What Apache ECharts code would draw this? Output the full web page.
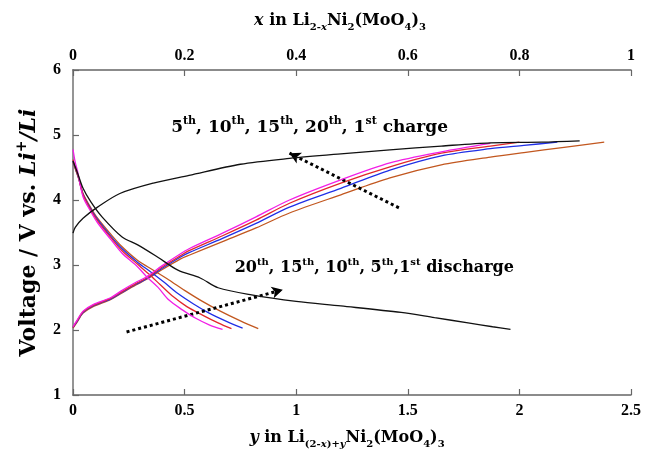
<!DOCTYPE html>
<html>
<head>
<meta charset="utf-8">
<script src="https://cdn.jsdelivr.net/npm/echarts@6/dist/echarts.min.js"></script>
<style>
  html, body { margin: 0; padding: 0; background: #fff; }
  #chart { width: 650px; height: 454px; }
</style>
</head>
<body>
<div id="chart"></div>
<script>
// y in Li(2-x)+yNi2(MoO4)3 vs voltage
const charge1 = [[0,3.49],[0.01,3.58],[0.045,3.72],[0.11,3.89],[0.21,4.10],[0.36,4.26],[0.52,4.38],[0.75,4.55],[0.97,4.64],[1.2,4.71],[1.42,4.77],[1.65,4.83],[1.87,4.88],[2.1,4.89],[2.27,4.91]]
const discharge1 = [[0,4.60],[0.02,4.42],[0.045,4.18],[0.08,3.97],[0.13,3.74],[0.22,3.43],[0.29,3.31],[0.38,3.12],[0.47,2.92],[0.57,2.80],[0.65,2.65],[0.8,2.54],[1.0,2.44],[1.2,2.37],[1.47,2.27],[1.62,2.19],[1.77,2.11],[1.88,2.05],[1.96,2.01]]

const charge5 = [[0,2.03],[0.02,2.13],[0.045,2.26],[0.09,2.36],[0.17,2.47],[0.22,2.57],[0.28,2.69],[0.33,2.78],[0.40,2.93],[0.48,3.09],[0.52,3.15],[0.67,3.36],[0.82,3.57],[0.97,3.80],[1.2,4.08],[1.42,4.34],[1.65,4.54],[1.87,4.66],[2.02,4.73],[2.2,4.81],[2.38,4.89]]
const charge10 = [[0,2.04],[0.02,2.14],[0.045,2.27],[0.09,2.37],[0.17,2.48],[0.22,2.58],[0.28,2.70],[0.33,2.79],[0.40,2.95],[0.48,3.12],[0.52,3.19],[0.67,3.41],[0.82,3.64],[0.97,3.89],[1.2,4.18],[1.42,4.46],[1.65,4.68],[1.87,4.79],[2.02,4.84],[2.17,4.89]]
const charge15 = [[0,2.04],[0.02,2.15],[0.045,2.28],[0.09,2.38],[0.17,2.49],[0.22,2.59],[0.28,2.71],[0.33,2.80],[0.40,2.97],[0.48,3.14],[0.52,3.22],[0.67,3.45],[0.82,3.69],[0.97,3.95],[1.2,4.26],[1.42,4.51],[1.65,4.72],[1.87,4.83],[2.0,4.89]]
const charge20 = [[0,2.05],[0.02,2.16],[0.045,2.29],[0.09,2.39],[0.17,2.50],[0.22,2.61],[0.28,2.73],[0.33,2.82],[0.40,2.99],[0.48,3.17],[0.52,3.25],[0.67,3.49],[0.82,3.74],[0.97,4.00],[1.2,4.31],[1.42,4.57],[1.65,4.74],[1.87,4.87]]

const discharge5 = [[0,4.58],[0.01,4.48],[0.025,4.33],[0.045,4.10],[0.08,3.88],[0.11,3.72],[0.17,3.47],[0.22,3.28],[0.29,3.07],[0.36,2.92],[0.43,2.77],[0.50,2.61],[0.58,2.44],[0.66,2.29],[0.75,2.14],[0.83,2.02]]
const discharge10 = [[0,4.60],[0.01,4.49],[0.025,4.34],[0.045,4.09],[0.08,3.86],[0.11,3.70],[0.17,3.44],[0.22,3.25],[0.29,3.04],[0.35,2.89],[0.41,2.73],[0.47,2.56],[0.54,2.40],[0.61,2.26],[0.69,2.13],[0.76,2.03]]
const discharge15 = [[0,4.62],[0.01,4.50],[0.025,4.35],[0.045,4.08],[0.08,3.84],[0.11,3.68],[0.17,3.42],[0.22,3.22],[0.29,3.01],[0.34,2.86],[0.39,2.70],[0.45,2.51],[0.51,2.36],[0.58,2.23],[0.65,2.11],[0.71,2.02]]
const discharge20 = [[0,4.78],[0.01,4.58],[0.02,4.45],[0.045,4.05],[0.08,3.82],[0.11,3.65],[0.17,3.39],[0.22,3.18],[0.29,2.97],[0.33,2.82],[0.38,2.66],[0.43,2.46],[0.49,2.31],[0.55,2.18],[0.61,2.08],[0.67,2.01]]

const bottomTicks = ['0', '0.5', '1', '1.5', '2', '2.5']
const topTicks = ['0', '0.2', '0.4', '0.6', '0.8', '1']
const voltTicks = ['1', '2', '3', '4', '5', '6']

const font = 'Liberation Serif'
const wideFont = 'DejaVu Serif'
const axisColor = '#666'
const cycleColors = {
  first: '#111111',
  c5: '#c2571f',
  c10: '#1f2fe6',
  c15: '#e2282c',
  c20: '#f21ee6'
}

// rich text styles, size = base font size
function richStyles(size) {
  const base = { fontFamily: wideFont, fontWeight: 'bold', color: '#000' }
  const small = Math.round(size * 0.62)
  return {
    n: { ...base, fontSize: size, lineHeight: size + 6 },
    i: { ...base, fontStyle: 'italic', fontSize: size, lineHeight: size + 6 },
    sub: { ...base, fontSize: small, lineHeight: small + 3, verticalAlign: 'bottom' },
    si: { ...base, fontStyle: 'italic', fontSize: small, lineHeight: small + 3, verticalAlign: 'bottom' },
    s: { ...base, fontSize: small, lineHeight: small + 2, verticalAlign: 'top' },
    isup: { ...base, fontStyle: 'italic', fontSize: small, lineHeight: small + 2, verticalAlign: 'top' }
  }
}

function line(name, data, color, z) {
  return {
    name: name,
    type: 'line',
    data: data,
    showSymbol: false,
    smooth: 0.3,
    z: z,
    lineStyle: { color: color, width: 1.3 },
    silent: true
  }
}

const tickLabel = { fontFamily: font, fontWeight: 'bold', fontSize: 16, color: '#000' }

const chart = echarts.init(document.getElementById('chart'))
chart.setOption({
  animation: false,
  backgroundColor: '#fff',
  grid: { left: 73, right: 19, top: 70, bottom: 57 },
  xAxis: [{
    type: 'value',
    position: 'bottom',
    min: 0,
    max: 2.5,
    interval: 0.5,
    name: '{i|y}{n| in Li}{sub|(2-}{si|x}{sub|)+}{si|y}{n|Ni}{sub|2}{n|(MoO}{sub|4}{n|)}{sub|3}',
    nameLocation: 'middle',
    nameGap: 32,
    nameTextStyle: { rich: richStyles(16), padding: [0, 10, 0, 0] },
    axisLine: { lineStyle: { color: axisColor, width: 1.5 } },
    axisTick: { inside: true, length: 6, lineStyle: { color: axisColor, width: 1.2 } },
    axisLabel: { ...tickLabel, margin: 8, formatter: (v) => bottomTicks[Math.round(v / 0.5)] },
    splitLine: { show: false }
  }, {
    type: 'value',
    position: 'top',
    min: 0,
    max: 1,
    interval: 0.2,
    name: '{i|x}{n| in Li}{sub|2-}{si|x}{n|Ni}{sub|2}{n|(MoO}{sub|4}{n|)}{sub|3}',
    nameLocation: 'middle',
    nameGap: 38,
    nameTextStyle: { rich: richStyles(16), padding: [0, 24, 0, 0] },
    axisLine: { lineStyle: { color: axisColor, width: 1.5 } },
    axisTick: { inside: true, length: 6, lineStyle: { color: axisColor, width: 1.2 } },
    axisLabel: { ...tickLabel, margin: 6, formatter: (v) => topTicks[Math.round(v / 0.2)] },
    splitLine: { show: false }
  }],
  yAxis: [{
    type: 'value',
    min: 1,
    max: 6,
    interval: 1,
    name: '{n|Voltage / V vs. }{i|Li}{isup|+}{i|/Li}',
    nameLocation: 'middle',
    nameGap: 30,
    nameRotate: 90,
    nameTextStyle: { rich: richStyles(22) },
    axisLine: { show: true, lineStyle: { color: axisColor, width: 1.5 } },
    axisTick: { show: true, inside: true, length: 6, lineStyle: { color: axisColor, width: 1.2 } },
    axisLabel: { ...tickLabel, margin: 12, formatter: (v) => voltTicks[Math.round(v) - 1] },
    splitLine: { show: false }
  }, {
    type: 'value',
    position: 'right',
    min: 1,
    max: 6,
    interval: 1,
    axisLine: { show: true, lineStyle: { color: '#999', width: 1.5 } },
    axisTick: { show: false },
    axisLabel: { show: false },
    splitLine: { show: false }
  }],
  series: [
    line('5th charge', charge5, cycleColors.c5, 2),
    line('10th charge', charge10, cycleColors.c10, 3),
    line('15th charge', charge15, cycleColors.c15, 4),
    line('20th charge', charge20, cycleColors.c20, 5),
    line('5th discharge', discharge5, cycleColors.c5, 2),
    line('10th discharge', discharge10, cycleColors.c10, 3),
    line('15th discharge', discharge15, cycleColors.c15, 4),
    line('20th discharge', discharge20, cycleColors.c20, 5),
    line('1st discharge', discharge1, cycleColors.first, 6),
    Object.assign(line('1st charge', charge1, cycleColors.first, 6), {
      markLine: {
        silent: true,
        symbol: ['none', 'arrow'],
        symbolSize: [9, 11],
        label: { show: false },
        lineStyle: { color: '#000', type: [3, 3], width: 3 },
        data: [
          [{ coord: [1.46, 3.88] }, { coord: [0.97, 4.72] }],
          [{ coord: [0.24, 1.97] }, { coord: [0.94, 2.62] }]
        ]
      },
      markPoint: {
        silent: true,
        symbol: 'circle',
        symbolSize: 0,
        label: {
          show: true,
          position: 'inside'
        },
        data: [
          { coord: [1.06, 5.12], label: { rich: richStyles(17), formatter: '{n|5}{s|th}{n|, 10}{s|th}{n|, 15}{s|th}{n|, 20}{s|th}{n|, 1}{s|st}{n| charge}' } },
          { coord: [1.35, 2.95], label: { rich: richStyles(16), formatter: '{n|20}{s|th}{n|, 15}{s|th}{n|, 10}{s|th}{n|, 5}{s|th}{n|,1}{s|st}{n| discharge}' } }
        ]
      }
    })
  ]
})
</script>
</body>
</html>
